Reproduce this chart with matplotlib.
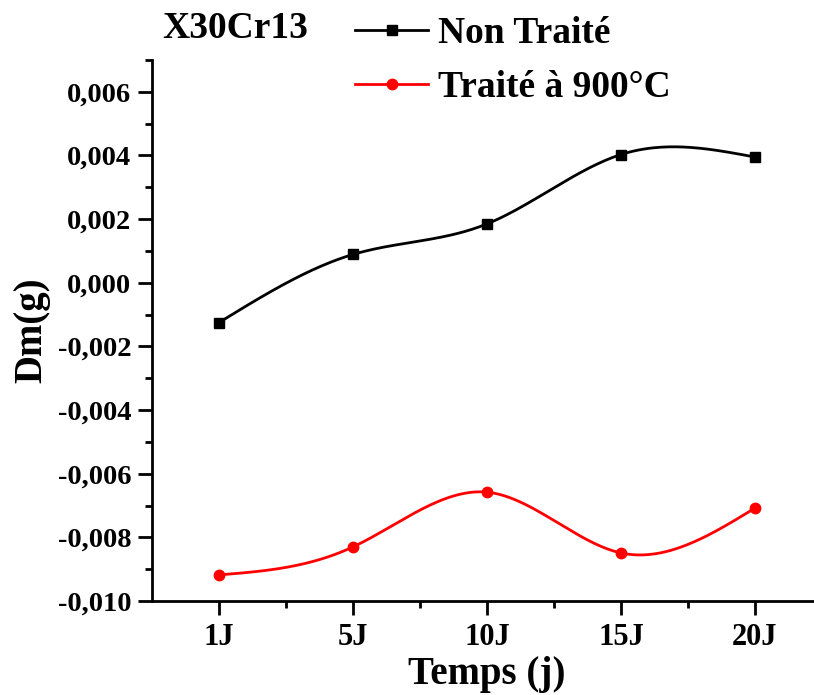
import numpy as np
import matplotlib
matplotlib.use("Agg")
import matplotlib.pyplot as plt
from matplotlib.ticker import FixedLocator, FuncFormatter, MultipleLocator

# values
days = ["1J", "5J", "10J", "15J", "20J"]
non_traite = [-0.00125, 0.00089, 0.00185, 0.00403, 0.00395]
traite_900 = [-0.00918, -0.00830, -0.00658, -0.00849, -0.00708]


def natural_spline(x, y, n=300):
    # Origin-style "spline" connection: natural cubic spline through the points
    x = np.asarray(x, float)
    y = np.asarray(y, float)
    h = np.diff(x)
    k = len(x)
    A = np.zeros((k, k))
    b = np.zeros(k)
    A[0, 0] = A[-1, -1] = 1.0
    for i in range(1, k - 1):
        A[i, i - 1] = h[i - 1]
        A[i, i] = 2 * (h[i - 1] + h[i])
        A[i, i + 1] = h[i]
        b[i] = 6 * ((y[i + 1] - y[i]) / h[i] - (y[i] - y[i - 1]) / h[i - 1])
    M = np.linalg.solve(A, b)
    xs = np.linspace(x[0], x[-1], n)
    idx = np.clip(np.searchsorted(x, xs) - 1, 0, k - 2)
    x0, x1 = x[idx], x[idx + 1]
    y0, y1 = y[idx], y[idx + 1]
    m0, m1 = M[idx], M[idx + 1]
    hh = x1 - x0
    ys = (m0 * (x1 - xs) ** 3 / (6 * hh) + m1 * (xs - x0) ** 3 / (6 * hh)
          + (y0 / hh - m0 * hh / 6) * (x1 - xs) + (y1 / hh - m1 * hh / 6) * (xs - x0))
    return xs, ys


plt.rcParams.update({"font.family": "Liberation Serif", "font.weight": "bold",
                     "axes.linewidth": 2.0})

W, H = 814, 695
fig = plt.figure(figsize=(W / 100, H / 100), dpi=100)
ax = fig.add_axes([152 / W, 1 - 601 / H, (822 - 152) / W, (601 - 60) / H])

xpos = np.arange(1, len(days) + 1)
for vals, color, marker, label in [(non_traite, "black", "s", "Non Traité"),
                                   (traite_900, "red", "o", "Traité à 900°C")]:
    xs, ys = natural_spline(xpos, vals)
    ax.plot(xs, ys, color=color, lw=2)
    ax.plot(xpos, vals, ls="none", marker=marker, color=color, ms=7.5)
    ax.plot([], [], color=color, lw=2, marker=marker, ms=7.5, label=label)

ax.set_xlim(0.5, 5.5)
ax.set_ylim(-0.010, 0.007)
ax.xaxis.set_major_locator(FixedLocator(xpos))
ax.set_xticklabels(days)
ax.xaxis.set_minor_locator(FixedLocator(np.arange(1.5, 5.6, 1.0)))
ax.yaxis.set_major_locator(FixedLocator(np.arange(-0.010, 0.0061, 0.002)))
ax.yaxis.set_minor_locator(MultipleLocator(0.001))
ax.yaxis.set_major_formatter(FuncFormatter(lambda v, p: f"{v:.3f}".replace(".", ",")))

for s in ("top", "right"):
    ax.spines[s].set_visible(False)
ax.tick_params(which="major", direction="out", length=10, width=2, labelsize=20.5, pad=5)
ax.tick_params(axis="x", which="major", labelsize=22, pad=6)
ax.tick_params(which="minor", direction="out", length=5, width=2)

ax.set_xlabel("Temps (j)", fontsize=28, fontweight="bold", labelpad=3)
ax.set_ylabel("Dm(g)", fontsize=28, fontweight="bold", labelpad=5)

fig.text(162 / W, 1 - 28 / H, "X30Cr13", fontsize=27, fontweight="bold", va="center")
fig.legend(loc="upper left", bbox_to_anchor=(355 / W, 1 - 16 / H), frameon=False,
           handlelength=1.95, handletextpad=0.25, labelspacing=0.5,
           borderpad=0, borderaxespad=0, prop={"weight": "bold", "size": 27})

fig.savefig("out.png", dpi=100)
